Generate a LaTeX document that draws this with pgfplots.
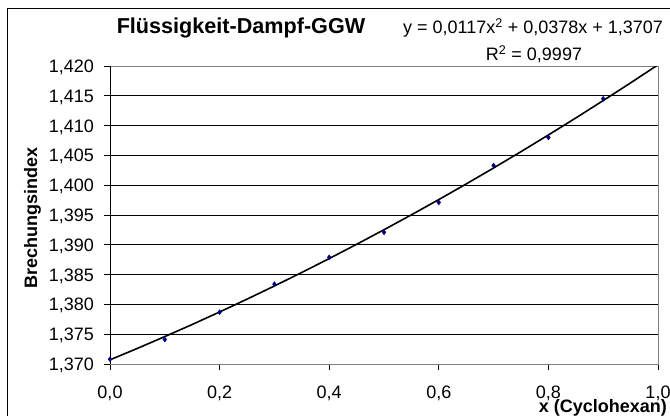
\documentclass[border=0pt]{standalone}
\usepackage{pgfplots}
\pgfplotsset{compat=1.18}
\usepackage{fontspec}
\setmainfont{Liberation Sans}
\definecolor{navyblue}{HTML}{000080}
\begin{document}
\begin{tikzpicture}
\useasboundingbox (0,0) rectangle (670bp,416bp);
\fill[white] (0,0) rectangle (670bp,416bp);
\draw[black, line width=1bp] (7bp,-5bp) -- (7bp,407bp) -- (690bp,407bp);
\begin{axis}[at={(110bp,52bp)}, anchor=south west, scale only axis,
  width=548bp, height=298bp,
  xmin=0, xmax=1, ymin=1.370, ymax=1.420,
  xtick={0,0.2,0.4,0.6,0.8,1.0},
  ytick={1.370,1.375,1.380,1.385,1.390,1.395,1.400,1.405,1.410,1.415,1.420},
  ymajorgrids, grid style={black, line width=0.8bp},
  axis line style={draw=gray, line width=1bp},
  tick align=outside, major tick length=6bp, tick style={black, line width=0.8bp},
  xtick pos=bottom, ytick pos=left,
  /pgf/number format/assume math mode=true,
  tick label style={font=\fontsize{18bp}{20bp}\selectfont, inner sep=0pt},
  yticklabel style={anchor=base east, yshift=-6.4bp, xshift=-10bp,
    /pgf/number format/.cd, fixed, fixed zerofill, precision=3, use comma},
  xticklabel style={anchor=base, yshift=-28bp,
    /pgf/number format/.cd, fixed, fixed zerofill, precision=1, use comma},
]
\addplot[only marks, mark=diamond*, mark size=2.5bp, color=navyblue] coordinates {
  (0.0,1.3708) (0.1,1.3741) (0.2,1.3787) (0.3,1.3834) (0.4,1.3879)
  (0.5,1.3921) (0.6,1.3971) (0.7,1.4033) (0.8,1.4080) (0.9,1.4145)
};
\addplot[black, line width=1.6bp, no marks] coordinates {
  (0.00,1.37070) (0.05,1.37262) (0.10,1.37460) (0.15,1.37663) (0.20,1.37873)
  (0.25,1.38088) (0.30,1.38309) (0.35,1.38536) (0.40,1.38769) (0.45,1.39008)
  (0.50,1.39253) (0.55,1.39503) (0.60,1.39759) (0.65,1.40021) (0.70,1.40289)
  (0.75,1.40563) (0.80,1.40843) (0.85,1.41128) (0.90,1.41420) (0.95,1.41717)
  (1.00,1.42020)
};
\draw[black, line width=1bp] (rel axis cs:0,1) -- (rel axis cs:0,0) -- (rel axis cs:1,0);
\end{axis}
\node[font=\fontsize{21.6bp}{24bp}\selectfont\bfseries, anchor=base, inner sep=0pt] at (241bp,382bp) {Flüssigkeit-Dampf-GGW};
\node[font=\fontsize{18bp}{20bp}\selectfont, anchor=base, inner sep=0pt] at (533bp,382bp) {y = 0,0117x\textsuperscript{2} + 0,0378x + 1,3707};
\node[font=\fontsize{18bp}{20bp}\selectfont, anchor=base, inner sep=0pt] at (534bp,355bp) {R\textsuperscript{2} = 0,9997};
\node[font=\fontsize{18bp}{20bp}\selectfont\bfseries, rotate=90, anchor=base, inner sep=0pt] at (37bp,198bp) {Brechungsindex};
\node[font=\fontsize{18bp}{20bp}\selectfont\bfseries, anchor=base east, inner sep=0pt] at (667bp,4bp) {x (Cyclohexan)};
\end{tikzpicture}
\end{document}
